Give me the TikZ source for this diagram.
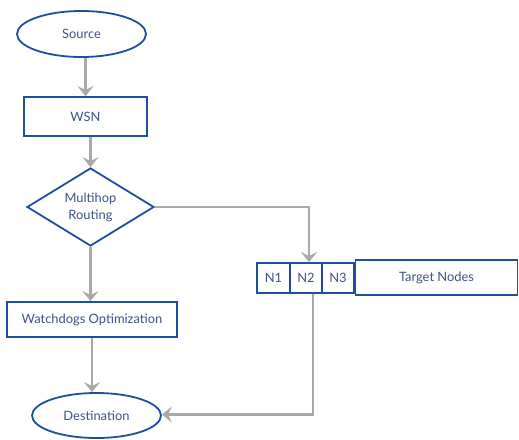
\documentclass[tikz,border=0pt]{standalone}
\usepackage{fontspec}
\setmainfont{Lato}
\usetikzlibrary{shapes.geometric,arrows.meta}
\definecolor{bord}{HTML}{1F4E9E}
\definecolor{txt}{HTML}{3E5285}
\definecolor{arrg}{HTML}{A9A9A9}
\tikzset{
  box/.style={draw=bord,line width=1.8pt,text=txt,font=\fontsize{12.9}{17}\selectfont,inner sep=0pt},
  rbox/.style={box,rectangle},
  ebox/.style={box,ellipse},
  dbox/.style={box,diamond,aspect=1.6,align=center},
  arr/.style={draw=arrg,line width=2.2pt,-{Stealth[length=10pt,width=16pt,inset=4pt]}},
}
\begin{document}
\begin{tikzpicture}[x=1pt,y=-1pt]
\useasboundingbox (0,0) rectangle (519,439);
\node[ebox,minimum width=129pt,minimum height=46pt] (src) at (81.5,34) {Source};
\node[rbox,minimum width=123pt,minimum height=39pt] (wsn) at (85.5,116.5) {WSN};
\node[dbox,minimum width=127pt,minimum height=78pt] (mr) at (90.5,207) {Multihop\\Routing};
\node[rbox,minimum width=170pt,minimum height=35pt] (wd) at (92,319.5) {Watchdogs Optimization};
\node[ebox,minimum width=129pt,minimum height=45pt] (dst) at (96.5,415.5) {Destination};
\node[rbox,minimum width=33pt,minimum height=30pt] (n1) at (273.5,278) {N1};
\node[rbox,minimum width=32pt,minimum height=30pt] (n2) at (306,278) {N2};
\node[rbox,minimum width=32pt,minimum height=30pt] (n3) at (338,278) {N3};
\node[rbox,minimum width=162pt,minimum height=35pt] (tn) at (436.5,277.5) {Target Nodes};
\draw[arr] (src.south -| wsn.north) -- (wsn.north);
\draw[arr] (wsn.south -| mr.north) -- (mr.north);
\draw[arr] (mr.south) -- (mr.south |- wd.north);
\draw[arr] (wd.south) -- (wd.south |- dst.north);
\draw[arr] (mr.east) -| ([xshift=3pt]n2.north);
\draw[arr] ([xshift=7pt]n2.south) |- ([yshift=1pt]dst.east);
\end{tikzpicture}
\end{document}
